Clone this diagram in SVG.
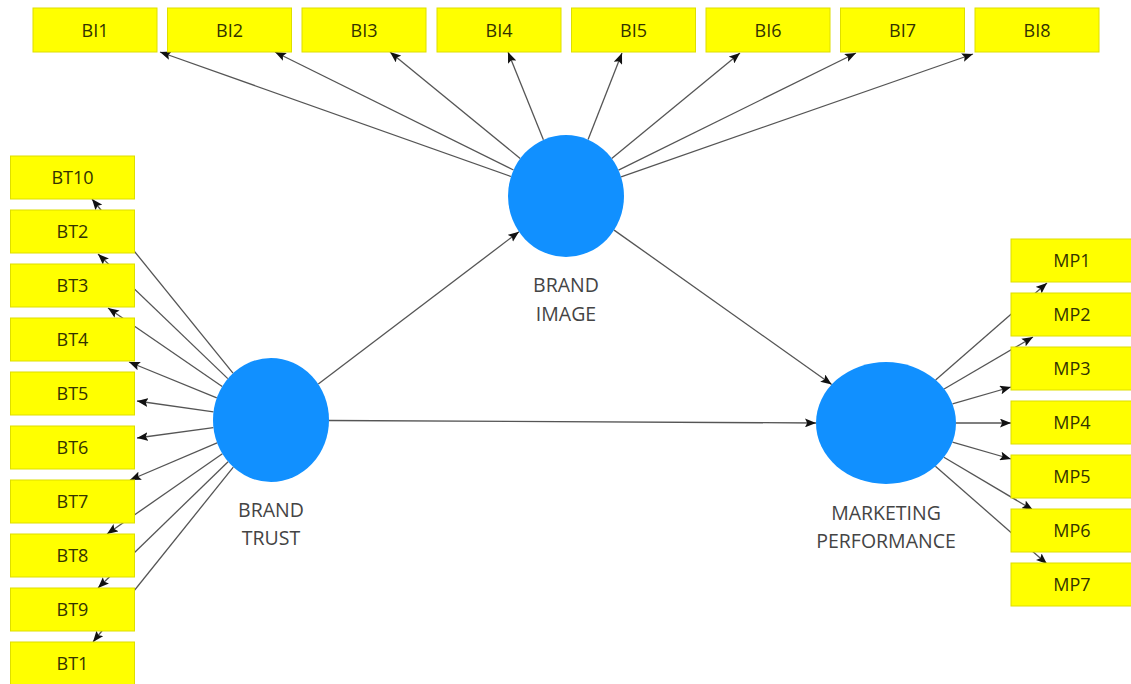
<svg xmlns="http://www.w3.org/2000/svg" width="1131" height="684" viewBox="0 0 1131 684">
  <defs>
    <marker id="arrow" viewBox="0 0 10 8" refX="10" refY="4" markerWidth="11" markerHeight="9" markerUnits="userSpaceOnUse" orient="auto">
      <path d="M0,0 L10,4 L0,8 L2,4 z" fill="#111"/>
    </marker>
    <style>
      .ind rect { fill: #ffff00; stroke: #dede00; stroke-width: 1; }
      .ind text { font-family: "Open Sans", "DejaVu Sans", sans-serif; font-size: 18px; fill: #333300; text-anchor: middle; }
      .lv ellipse { fill: #1190ff; }
      .lv text { font-family: "Open Sans", "DejaVu Sans", sans-serif; font-size: 19.5px; fill: #444; text-anchor: middle; }
      #connectors line { stroke: #555; stroke-width: 1.3; fill: none; marker-end: url(#arrow); }
    </style>
  </defs>

  <rect width="1131" height="684" fill="#ffffff"/>

  <!-- connectors: structural paths and outer loadings -->
  <g id="connectors">
    <!-- structural model -->
    <line x1="318.3" y1="384.1" x2="519" y2="231.7"/>
    <line x1="614.1" y1="230.1" x2="831.7" y2="384.5"/>
    <line x1="329" y1="420.5" x2="816" y2="423"/>
    <!-- BRAND IMAGE indicators -->
    <line x1="511" y1="176.5" x2="160" y2="52"/>
    <line x1="513.5" y1="170" x2="275" y2="52"/>
    <line x1="520.2" y1="158.5" x2="390" y2="52"/>
    <line x1="543.4" y1="139.8" x2="508" y2="52"/>
    <line x1="588.1" y1="139.6" x2="622" y2="53"/>
    <line x1="611.7" y1="158.4" x2="740" y2="53"/>
    <line x1="618.5" y1="170.1" x2="856" y2="53"/>
    <line x1="621.1" y1="176.8" x2="973" y2="54"/>
    <!-- BRAND TRUST indicators -->
    <line x1="233" y1="373.1" x2="92" y2="199"/>
    <line x1="227.8" y1="378.6" x2="98" y2="254"/>
    <line x1="222.2" y1="386.5" x2="108" y2="308"/>
    <line x1="216.8" y1="397.9" x2="129" y2="362"/>
    <line x1="213.5" y1="411.8" x2="137" y2="401"/>
    <line x1="213.4" y1="427.7" x2="137" y2="438"/>
    <line x1="217.1" y1="442.9" x2="130" y2="480"/>
    <line x1="222.4" y1="453.8" x2="107" y2="534"/>
    <line x1="228.1" y1="461.7" x2="98" y2="588"/>
    <line x1="233.3" y1="467.1" x2="93" y2="642"/>
    <!-- MARKETING PERFORMANCE indicators -->
    <line x1="935.6" y1="379.9" x2="1047" y2="283"/>
    <line x1="944.1" y1="389" x2="1033" y2="337"/>
    <line x1="952.5" y1="403.9" x2="1011" y2="387"/>
    <line x1="956" y1="423" x2="1011" y2="423"/>
    <line x1="952.5" y1="442.1" x2="1011" y2="459"/>
    <line x1="943.9" y1="457.3" x2="1033" y2="510"/>
    <line x1="935.4" y1="466.2" x2="1047" y2="564"/>
  </g>

  <!-- BRAND IMAGE indicators -->
  <g id="BI1" class="ind"><rect x="33" y="8" width="124" height="44"/><text x="95" y="36.5">BI1</text></g>
  <g id="BI2" class="ind"><rect x="167.5" y="8" width="124" height="44"/><text x="229.5" y="36.5">BI2</text></g>
  <g id="BI3" class="ind"><rect x="302" y="8" width="124" height="44"/><text x="364" y="36.5">BI3</text></g>
  <g id="BI4" class="ind"><rect x="437" y="8" width="124" height="44"/><text x="499" y="36.5">BI4</text></g>
  <g id="BI5" class="ind"><rect x="571.5" y="8" width="124" height="44"/><text x="633.5" y="36.5">BI5</text></g>
  <g id="BI6" class="ind"><rect x="706" y="8" width="124" height="44"/><text x="768" y="36.5">BI6</text></g>
  <g id="BI7" class="ind"><rect x="840.5" y="8" width="124" height="44"/><text x="902.5" y="36.5">BI7</text></g>
  <g id="BI8" class="ind"><rect x="975" y="8" width="124" height="44"/><text x="1037" y="36.5">BI8</text></g>

  <!-- BRAND TRUST indicators -->
  <g id="BT10" class="ind"><rect x="10.5" y="156" width="124" height="43"/><text x="72.5" y="184">BT10</text></g>
  <g id="BT2" class="ind"><rect x="10.5" y="210" width="124" height="43"/><text x="72.5" y="238">BT2</text></g>
  <g id="BT3" class="ind"><rect x="10.5" y="264" width="124" height="43"/><text x="72.5" y="292">BT3</text></g>
  <g id="BT4" class="ind"><rect x="10.5" y="318" width="124" height="43"/><text x="72.5" y="346">BT4</text></g>
  <g id="BT5" class="ind"><rect x="10.5" y="372" width="124" height="43"/><text x="72.5" y="400">BT5</text></g>
  <g id="BT6" class="ind"><rect x="10.5" y="426" width="124" height="43"/><text x="72.5" y="454">BT6</text></g>
  <g id="BT7" class="ind"><rect x="10.5" y="480" width="124" height="43"/><text x="72.5" y="508">BT7</text></g>
  <g id="BT8" class="ind"><rect x="10.5" y="534" width="124" height="43"/><text x="72.5" y="562">BT8</text></g>
  <g id="BT9" class="ind"><rect x="10.5" y="588" width="124" height="43"/><text x="72.5" y="616">BT9</text></g>
  <g id="BT1" class="ind"><rect x="10.5" y="642" width="124" height="43"/><text x="72.5" y="670">BT1</text></g>

  <!-- MARKETING PERFORMANCE indicators -->
  <g id="MP1" class="ind"><rect x="1011" y="239" width="124" height="43"/><text x="1072" y="267">MP1</text></g>
  <g id="MP2" class="ind"><rect x="1011" y="293" width="124" height="43"/><text x="1072" y="321">MP2</text></g>
  <g id="MP3" class="ind"><rect x="1011" y="347" width="124" height="43"/><text x="1072" y="375">MP3</text></g>
  <g id="MP4" class="ind"><rect x="1011" y="401" width="124" height="43"/><text x="1072" y="429">MP4</text></g>
  <g id="MP5" class="ind"><rect x="1011" y="455" width="124" height="43"/><text x="1072" y="483">MP5</text></g>
  <g id="MP6" class="ind"><rect x="1011" y="509" width="124" height="43"/><text x="1072" y="537">MP6</text></g>
  <g id="MP7" class="ind"><rect x="1011" y="563" width="124" height="43"/><text x="1072" y="591">MP7</text></g>

  <!-- latent variables -->
  <g id="brand-image" class="lv">
    <ellipse cx="566" cy="196" rx="58" ry="61"/>
    <text x="566" y="292">BRAND</text>
    <text x="566" y="321">IMAGE</text>
  </g>
  <g id="brand-trust" class="lv">
    <ellipse cx="271" cy="420" rx="58" ry="62"/>
    <text x="271" y="517">BRAND</text>
    <text x="271" y="545">TRUST</text>
  </g>
  <g id="marketing-performance" class="lv">
    <ellipse cx="886" cy="423" rx="70" ry="61"/>
    <text x="886" y="520">MARKETING</text>
    <text x="886" y="548">PERFORMANCE</text>
  </g>
</svg>
